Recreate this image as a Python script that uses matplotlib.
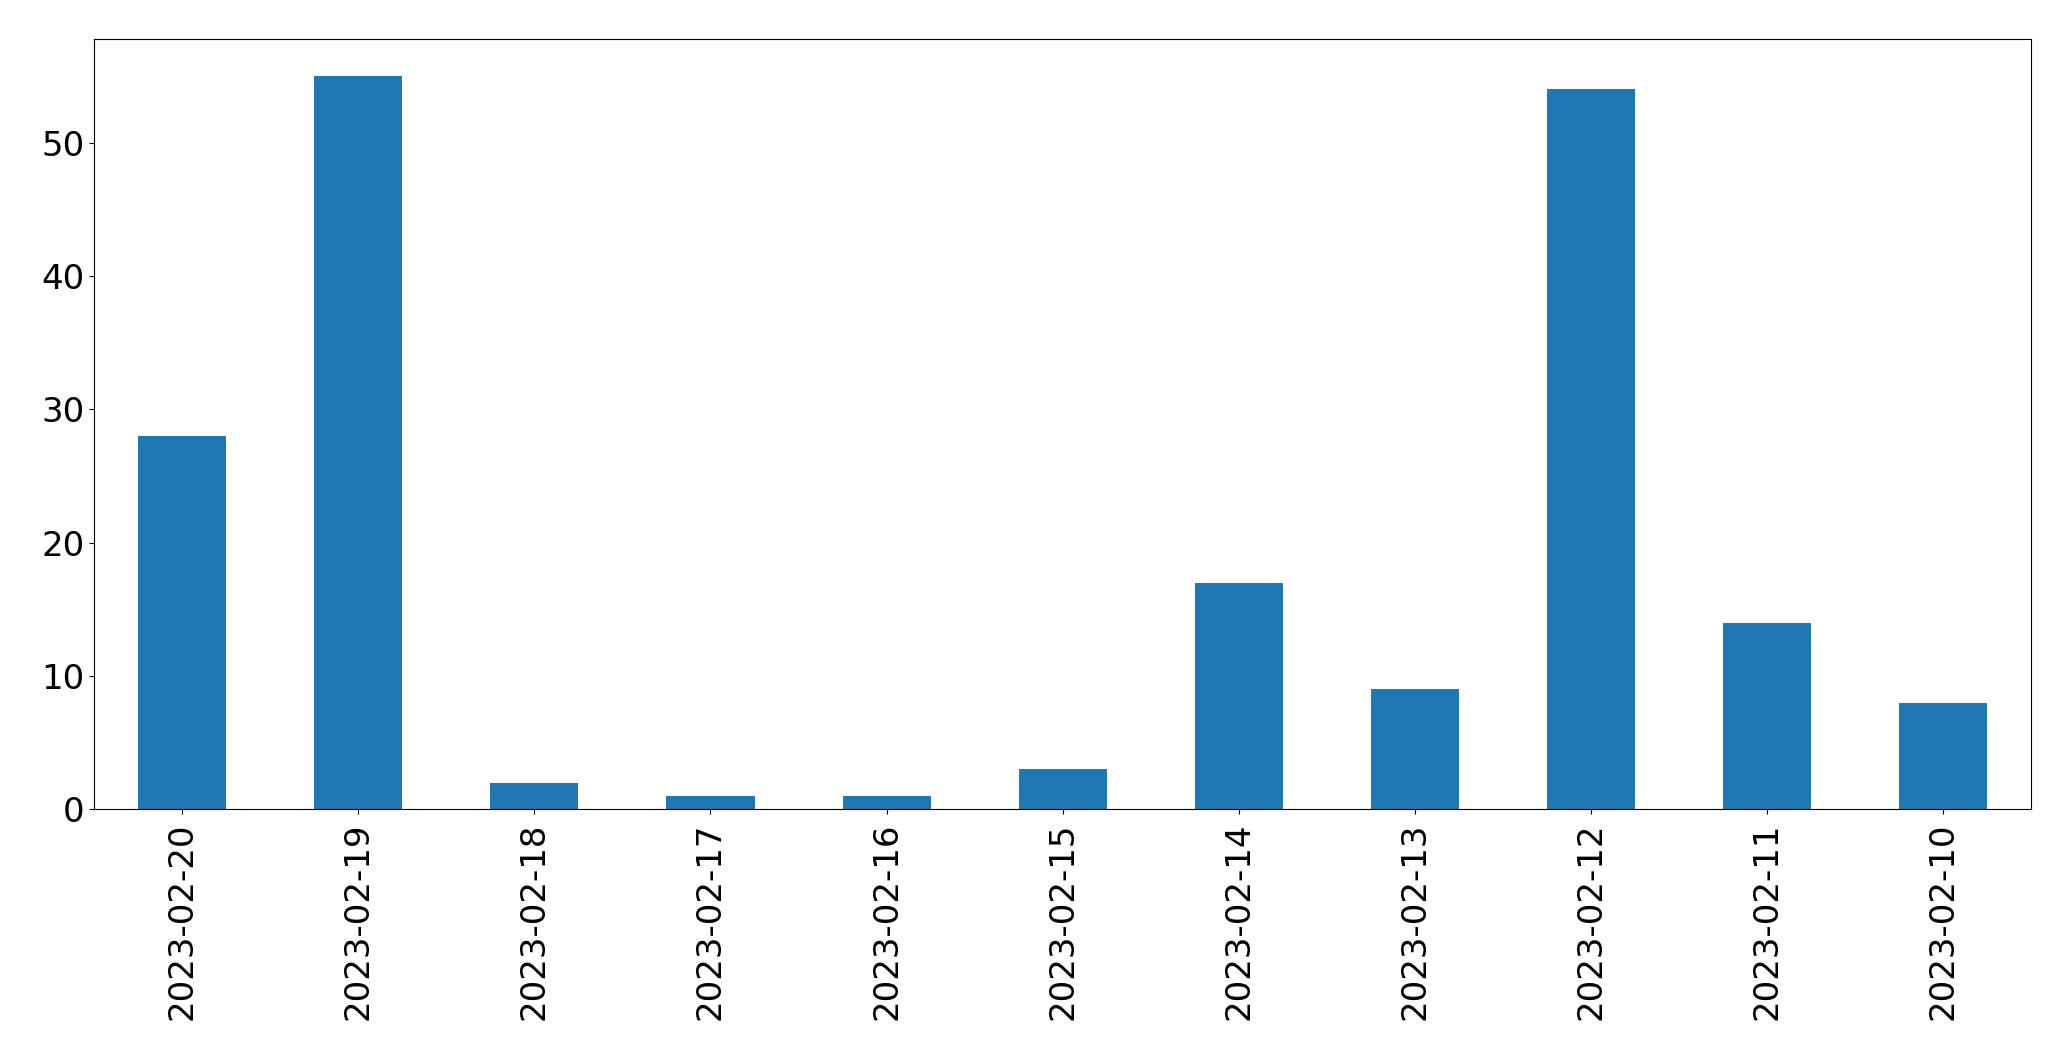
import matplotlib
matplotlib.use("Agg")
import matplotlib.pyplot as plt

dates = ["2023-02-20", "2023-02-19", "2023-02-18", "2023-02-17", "2023-02-16",
         "2023-02-15", "2023-02-14", "2023-02-13", "2023-02-12", "2023-02-11", "2023-02-10"]
counts = [28, 55, 2, 1, 1, 3, 17, 9, 54, 14, 8]

fig = plt.figure(figsize=(20.71, 10.61), dpi=100)
ax = fig.add_axes([0.0455, 0.2372, 0.9352, 0.7258])
x = range(len(dates))
ax.bar(x, counts, width=0.5, color="#1f77b4")
ax.set_xlim(-0.5, len(dates) - 0.5)
ax.set_xticks(list(x))
ax.set_xticklabels(dates, rotation=90, fontsize=24.5)
ax.tick_params(axis="y", labelsize=24.5)
ax.tick_params(axis="x", pad=6)
ax.set_ylim(0, 57.75)
fig.savefig("out.png", dpi=100)
